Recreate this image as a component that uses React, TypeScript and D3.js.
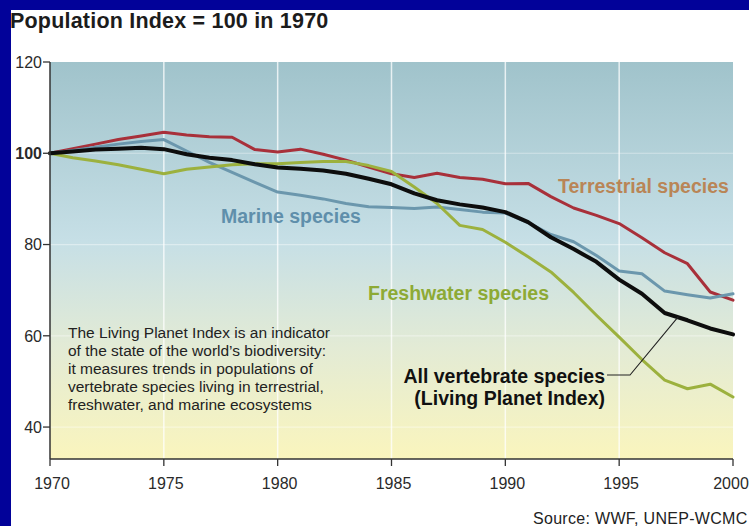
import * as d3 from 'd3';

const years = d3.range(1970, 2001);

// index values, 1970..2000
const terrestrial = [100, 101, 102, 103, 103.8, 104.6, 104, 103.6, 103.5, 100.8, 100.3, 100.9, 99.8, 98.5, 97, 95.5, 94.7, 95.6, 94.7, 94.3, 93.3, 93.4, 90.5, 88, 86.4, 84.6, 81.5, 78.2, 75.8, 69.6, 67.8];
const marine = [100, 100.6, 101.3, 102, 102.6, 103, 100.5, 98, 95.8, 93.6, 91.5, 90.8, 90, 89, 88.3, 88.1, 87.9, 88.2, 87.7, 87.1, 86.9, 84.8, 82.2, 80.6, 77.6, 74.2, 73.6, 69.8, 69, 68.3, 69.2];
const freshwater = [100, 99, 98.3, 97.5, 96.5, 95.5, 96.5, 97, 97.5, 97.7, 97.7, 98, 98.2, 98.2, 97.3, 96, 92.6, 89, 84.2, 83.3, 80.5, 77.3, 74, 69.5, 64.5, 59.7, 54.8, 50.3, 48.4, 49.4, 46.6];
const allSpecies = [100, 100.4, 100.8, 101, 101.2, 100.9, 99.8, 99, 98.5, 97.6, 96.9, 96.6, 96.2, 95.5, 94.4, 93.2, 91.2, 89.7, 88.8, 88.1, 87.1, 84.9, 81.6, 79, 76.2, 72.3, 69.2, 65, 63.4, 61.6, 60.3];

const xTickYears = [1970, 1975, 1980, 1985, 1990, 1995, 2000];
const yTickValues = [40, 60, 80, 100, 120];
const gridYears = [1975, 1980, 1985, 1990, 1995];
const gridValues = [40, 60, 80, 100];

const descriptionLines = [
  'The Living Planet Index is an indicator',
  'of the state of the world\u2019s biodiversity:',
  'it measures trends in populations of',
  'vertebrate species living in terrestrial,',
  'freshwater, and marine ecosystems',
];

const series = [
  { name: 'terrestrial', values: terrestrial, color: '#a8303a', width: 3 },
  { name: 'marine', values: marine, color: '#6b97ad', width: 3 },
  { name: 'freshwater', values: freshwater, color: '#9cb13e', width: 3 },
  { name: 'all', values: allSpecies, color: '#0d0d0d', width: 4 },
];

const W = 749;
const H = 526;
const font = '"Liberation Sans", Arial, Helvetica, sans-serif';

export default function App() {
  const x = d3.scaleLinear().domain([1970, 2000]).range([50, 733]);
  const y = d3.scaleLinear().domain([33, 120]).range([459, 62]);

  const line = (vals: number[]) =>
    d3
      .line<number>()
      .x((_, i) => x(years[i]))
      .y((d) => y(d))(vals) || '';

  const [x0, x1] = x.range();
  const [yb, yt] = y.range();

  // leader from the black-line label to the black line
  const leadYear = 1997.6;
  const leadVal = 64.2;

  return (
    <svg
      width={W}
      height={H}
      style={{ position: 'absolute', left: 0, top: 0, display: 'block', background: '#fff' }}
      fontFamily={font}
    >
      <defs>
        <linearGradient id="bg" x1="0" y1="0" x2="0" y2="1">
          <stop offset="0" stopColor="#a0c3cb" />
          <stop offset="0.45" stopColor="#c6dfe6" />
          <stop offset="0.72" stopColor="#e3ebd5" />
          <stop offset="1" stopColor="#faf5bd" />
        </linearGradient>
      </defs>

      <rect x={0} y={0} width={W} height={10} fill="#020299" />
      <rect x={0} y={0} width={11} height={H} fill="#020299" />

      <text x={10} y={28} fontSize={21.5} fontWeight="bold" fill="#1c1c1c" letterSpacing={0.2}>
        Population Index = 100 in 1970
      </text>

      <rect x={x0} y={yt} width={x1 - x0} height={yb - yt} fill="url(#bg)" />

      {gridYears.map((yr) => (
        <line key={yr} x1={x(yr)} x2={x(yr)} y1={yt} y2={yb} stroke="#ffffff" strokeOpacity={0.75} strokeWidth={1.5} />
      ))}
      {gridValues.map((v) => (
        <line key={v} x1={x0} x2={x1} y1={y(v)} y2={y(v)} stroke="#ffffff" strokeOpacity={0.4} strokeWidth={1.2} />
      ))}

      {series.map((s) => (
        <path
          key={s.name}
          d={line(s.values)}
          fill="none"
          stroke={s.color}
          strokeWidth={s.width}
          strokeLinejoin="round"
          strokeLinecap="round"
        />
      ))}

      {/* axes */}
      <line x1={x0} x2={x0} y1={yt} y2={yb} stroke="#333" strokeWidth={1.5} />
      <line x1={x0} x2={x1} y1={yb} y2={yb} stroke="#333" strokeWidth={1.5} />
      {yTickValues.map((v) => (
        <g key={v}>
          <line x1={x0 - 7} x2={x0} y1={y(v)} y2={y(v)} stroke="#333" strokeWidth={1.3} />
          <text
            x={x0 - 8}
            y={y(v)}
            dy="0.36em"
            textAnchor="end"
            fontSize={16}
            fontWeight={v === 100 ? 'bold' : 'normal'}
            fill="#2a2a2a"
          >
            {v}
          </text>
        </g>
      ))}
      {xTickYears.map((yr) => (
        <g key={yr}>
          <line x1={x(yr)} x2={x(yr)} y1={yb} y2={yb + 7} stroke="#333" strokeWidth={1.3} />
          <text x={yr === 2000 ? x(yr) - 2 : x(yr) + 2} y={489} textAnchor="middle" fontSize={16} fill="#2a2a2a">
            {yr}
          </text>
        </g>
      ))}

      {/* series labels */}
      <text x={558} y={193} fontSize={19.5} fontWeight="bold" fill="#b98556">
        Terrestrial species
      </text>
      <text x={221} y={223} fontSize={19.5} fontWeight="bold" fill="#5f8fab">
        Marine species
      </text>
      <text x={368} y={300} fontSize={19.5} fontWeight="bold" fill="#8daa35">
        Freshwater species
      </text>
      <text x={605} y={383} fontSize={19.5} fontWeight="bold" fill="#111" textAnchor="end">
        All vertebrate species
      </text>
      <text x={605} y={405} fontSize={19.5} fontWeight="bold" fill="#111" textAnchor="end">
        (Living Planet Index)
      </text>
      <polyline
        points={`607,375 630,375 ${x(leadYear)},${y(leadVal)}`}
        fill="none"
        stroke="#222"
        strokeWidth={1.1}
      />

      {descriptionLines.map((t, i) => (
        <text key={i} x={68} y={338 + i * 18} fontSize={15.5} fill="#222">
          {t}
        </text>
      ))}

      <text x={533} y={524} fontSize={16} fill="#222" letterSpacing={0.3}>
        Source: WWF, UNEP-WCMC
      </text>
    </svg>
  );
}
